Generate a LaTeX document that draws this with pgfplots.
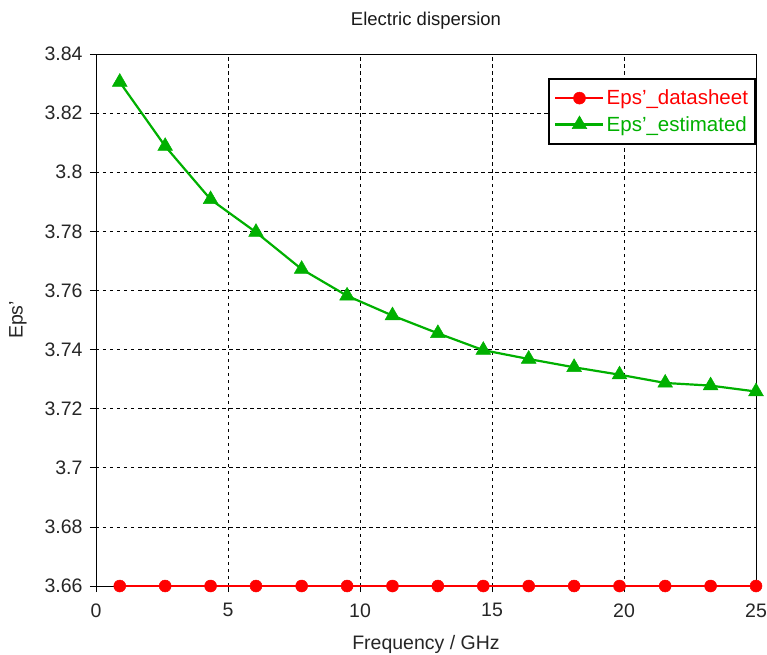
\documentclass[border=0pt]{standalone}
\usepackage{pgfplots}
\pgfplotsset{compat=1.18}
\usepackage{fontspec}
\setmainfont{Liberation Sans}
\definecolor{eest}{RGB}{0,176,0}
\definecolor{eds}{RGB}{255,0,0}
\begin{document}
\begin{tikzpicture}
\path[use as bounding box] (-96pt,-68pt) rectangle (671pt,586pt);
\begin{axis}[
  at={(0,0)}, anchor=south west,
  scale only axis, width=660pt, height=532pt,
  xmin=0, xmax=25, ymin=3.66, ymax=3.84,
  xtick={0,5,10,15,20,25},
  ytick={3.66,3.68,3.7,3.72,3.74,3.76,3.78,3.8,3.82,3.84},
  /pgf/number format/assume math mode=true,
  yticklabel style={/pgf/number format/fixed,/pgf/number format/precision=2, font=\fontsize{19.5}{21}\selectfont, text=black!85, xshift=-4pt},
  xticklabel style={font=\fontsize{19.5}{21}\selectfont, text=black!85, yshift=-8pt},
  tick align=outside, major tick length=6pt,
  tick style={black, line width=0.7pt},
  xtick pos=bottom, ytick pos=left,
  axis line style={black, line width=0.8pt},
  grid=major,
  major grid style={black, line width=0.7pt, dash pattern=on 3.5pt off 3.5pt},
  title={Electric dispersion},
  title style={font=\fontsize{18.5}{20}\selectfont, text=black!90, at={(0.5,1)}, anchor=center, yshift=27pt},
  xlabel={Frequency / GHz},
  ylabel={Eps'},
  xlabel style={font=\fontsize{19.5}{21}\selectfont, text=black!85, at={(0.5,0)}, anchor=center, yshift=-58pt},
  ylabel style={font=\fontsize{19.5}{21}\selectfont, text=black!85, at={(0,0.5)}, anchor=center, yshift=78pt},
  legend style={at={(1,0.955)}, anchor=north east, draw=black, line width=2pt, font=\fontsize{20.5}{23}\selectfont, row sep=6pt, inner xsep=5pt, inner ysep=9pt},
  legend cell align=left,
  legend image code/.code={\draw[#1] (0pt,0pt) -- (48pt,0pt); \draw[#1, mark repeat=2, mark phase=2] plot coordinates {(0pt,0pt) (24pt,0pt) (48pt,0pt)};},
]
\addplot[eds, line width=2.4pt, mark=*, mark size=6pt, mark options={solid, fill=eds, line width=0.5pt}] coordinates {
(0.9,3.66) (2.62,3.66) (4.34,3.66) (6.06,3.66) (7.79,3.66) (9.51,3.66) (11.23,3.66) (12.95,3.66)
(14.67,3.66) (16.39,3.66) (18.11,3.66) (19.83,3.66) (21.56,3.66) (23.28,3.66) (25.0,3.66)};
\addlegendentry{\textcolor{eds}{Eps'\_datasheet}}
\addplot[eest, line width=2.2pt, mark=triangle*, mark size=8.5pt, mark options={solid, fill=eest, line width=0.5pt}] coordinates {
(0.9,3.8305) (2.62,3.8088) (4.34,3.7908) (6.06,3.7797) (7.79,3.7672) (9.51,3.7582) (11.23,3.7515) (12.95,3.7455)
(14.67,3.7398) (16.39,3.7368) (18.11,3.7340) (19.83,3.7315) (21.56,3.7287) (23.28,3.7278) (25.0,3.7258)};
\addlegendentry{\textcolor{eest}{Eps'\_estimated}}
\end{axis}
\end{tikzpicture}
\end{document}
